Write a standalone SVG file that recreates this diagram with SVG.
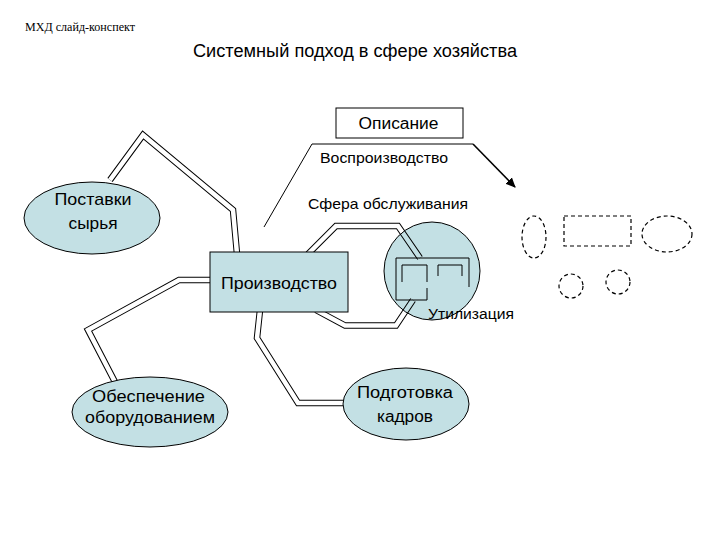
<svg xmlns="http://www.w3.org/2000/svg" width="720" height="540" viewBox="0 0 720 540">
<style>
.node{fill:#c3e0e4;stroke:#000;stroke-width:1}
.t{font-family:"Liberation Sans",Arial,sans-serif;fill:#000}
.dash{fill:none;stroke:#000;stroke-width:1.2;stroke-dasharray:4 3}
.thin{fill:none;stroke:#000;stroke-width:1}
</style>
<defs>
<path id="c1" d="M110,180 L143,135 L233,210 L237,254" fill="none"/>
<path id="c2" d="M212,280 L179,280 L88,330 L115,382" fill="none"/>
<path id="c3" d="M260,310 L257,338 L298,403 L346,403" fill="none"/>
<path id="c4" d="M308,254 L336,226 L398,226 L420,258" fill="none"/>
<path id="c5" d="M316,310 L345,325.5 L396,325.5 L413,300" fill="none"/>
<mask id="cut" maskUnits="userSpaceOnUse" x="0" y="0" width="720" height="540">
<rect width="720" height="540" fill="#fff"/>
<g stroke="#000" stroke-width="4.5" fill="none" stroke-linejoin="miter">
<use href="#c1"/><use href="#c2"/><use href="#c3"/><use href="#c4"/><use href="#c5"/>
</g>
</mask>
<marker id="arr" markerWidth="10" markerHeight="10" refX="9" refY="5" orient="auto" markerUnits="userSpaceOnUse">
<path d="M0,0.5 L10,5 L0,9.5 Z" fill="#000"/>
</marker>
</defs>
<rect width="720" height="540" fill="#fff"/>
<text x="25" y="31" font-family="'Liberation Serif',serif" font-size="11.5" textLength="110" lengthAdjust="spacingAndGlyphs">МХД слайд-конспект</text>
<text class="t" x="193" y="57" font-size="18" textLength="324" lengthAdjust="spacingAndGlyphs">Системный подход в сфере хозяйства</text>

<g id="utilizaciya">
<ellipse class="node" cx="432" cy="271" rx="48" ry="49"/>
</g>

<g id="connectors">
<g stroke="#000" stroke-width="6.5" fill="none" stroke-linejoin="miter" mask="url(#cut)">
<use href="#c1"/><use href="#c2"/><use href="#c3"/><use href="#c4"/><use href="#c5"/>
</g>
<path class="thin" d="M427,288 V300 H396 V258 H469 V287"/>
<path class="thin" d="M402,282 V265 H427 V282"/>
<path class="thin" d="M438,276 V265 H462 V276"/>
<path class="thin" d="M264,227 L312,144 H473"/>
<path d="M473,144 L515,187" stroke="#000" stroke-width="1.6" fill="none" marker-end="url(#arr)"/>
</g>

<text class="t" x="428" y="319" font-size="14" textLength="86" lengthAdjust="spacingAndGlyphs">Утилизация</text>

<g id="opisanie">
<rect x="336" y="108" width="127" height="30" fill="#fff" stroke="#000"/>
<text class="t" x="398.5" y="129" font-size="16" text-anchor="middle" textLength="80" lengthAdjust="spacingAndGlyphs">Описание</text>
</g>
<text class="t" x="320" y="163" font-size="14.5" textLength="128" lengthAdjust="spacingAndGlyphs">Воспроизводство</text>
<text class="t" x="308" y="209" font-size="14.5" textLength="160" lengthAdjust="spacingAndGlyphs">Сфера обслуживания</text>

<g id="postavki">
<ellipse class="node" cx="92" cy="218" rx="68" ry="36"/>
<text class="t" x="93" y="205" font-size="17" text-anchor="middle" textLength="77" lengthAdjust="spacingAndGlyphs">Поставки</text>
<text class="t" x="93" y="229" font-size="17" text-anchor="middle" textLength="49" lengthAdjust="spacingAndGlyphs">сырья</text>
</g>
<g id="proizvodstvo">
<rect class="node" x="210" y="252" width="138" height="60"/>
<text class="t" x="279" y="289" font-size="17" text-anchor="middle" textLength="116" lengthAdjust="spacingAndGlyphs">Производство</text>
</g>
<g id="obespechenie">
<ellipse class="node" cx="150" cy="412" rx="78" ry="35"/>
<text class="t" x="148.5" y="402" font-size="17" text-anchor="middle" textLength="113" lengthAdjust="spacingAndGlyphs">Обеспечение</text>
<text class="t" x="150" y="423" font-size="17" text-anchor="middle" textLength="130" lengthAdjust="spacingAndGlyphs">оборудованием</text>
</g>
<g id="podgotovka">
<ellipse class="node" cx="406" cy="404" rx="63" ry="36"/>
<text class="t" x="405" y="398" font-size="16" text-anchor="middle" textLength="96" lengthAdjust="spacingAndGlyphs">Подготовка</text>
<text class="t" x="405" y="422" font-size="16" text-anchor="middle" textLength="56" lengthAdjust="spacingAndGlyphs">кадров</text>
</g>

<g id="dashed">
<ellipse class="dash" cx="534" cy="237" rx="12" ry="21"/>
<rect class="dash" x="564" y="216" width="67" height="30"/>
<ellipse class="dash" cx="667" cy="234" rx="25" ry="18"/>
<circle class="dash" cx="571" cy="286" r="12"/>
<circle class="dash" cx="618" cy="282" r="12"/>
</g>
</svg>
